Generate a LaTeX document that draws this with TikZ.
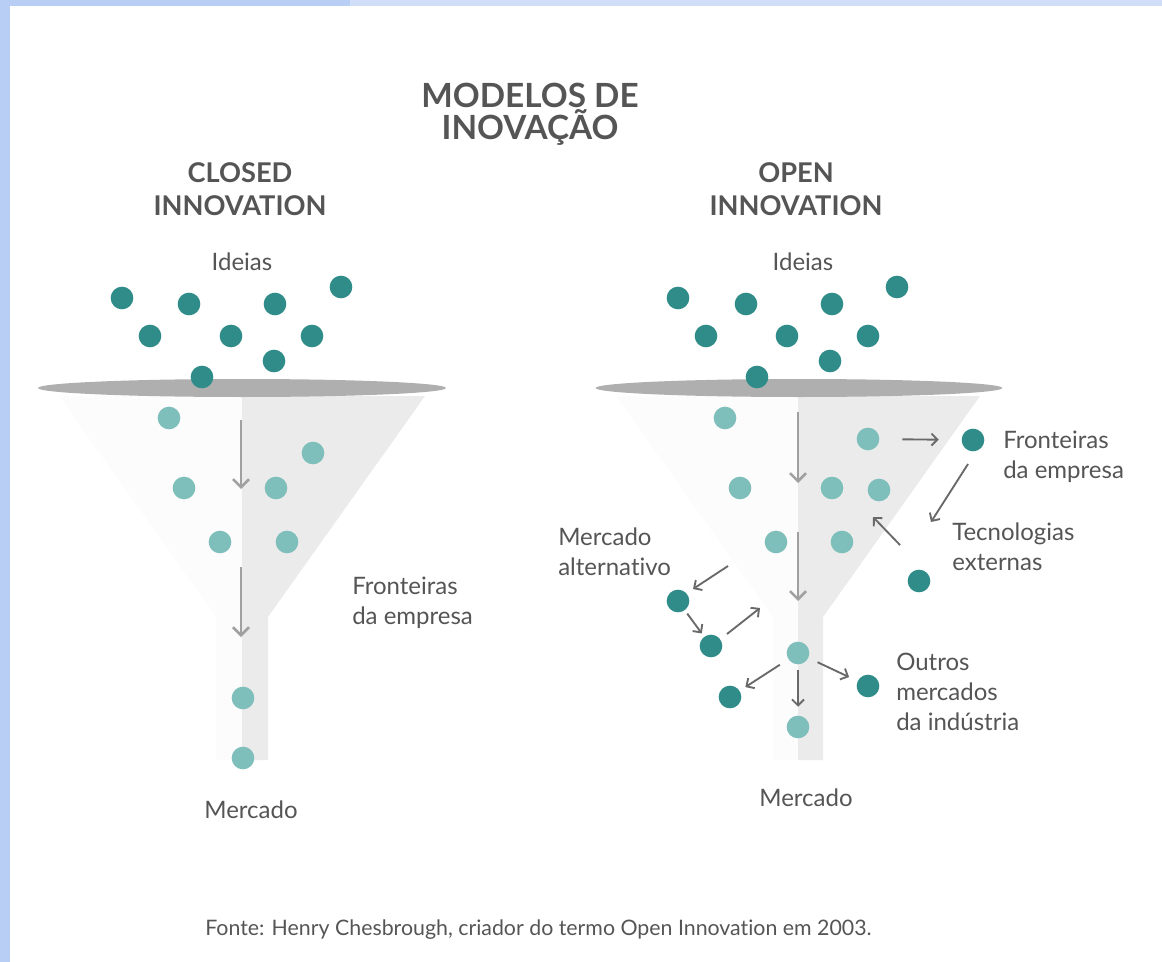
\documentclass[tikz,border=0pt]{standalone}
\usepackage{fontspec}
\setmainfont{Lato}[Ligatures=NoCommon]
\usetikzlibrary{arrows.meta}

\definecolor{tealdk}{RGB}{48,140,137}
\definecolor{teallt}{RGB}{126,191,187}
\definecolor{txtgray}{RGB}{85,85,85}
\definecolor{funnelgray}{RGB}{235,235,235}
\definecolor{funnelfaint}{RGB}{252,252,252}
\definecolor{rimgray}{RGB}{175,175,175}
\definecolor{arrgray}{RGB}{160,160,160}
\definecolor{arrdk}{RGB}{105,105,105}
\definecolor{framebl}{RGB}{184,206,245}
\definecolor{framelt}{RGB}{208,222,247}

\begin{document}
\begin{tikzpicture}[x=0.75pt,y=0.75pt,yscale=-1,xscale=1,
  dk/.style={circle,fill=tealdk,inner sep=0pt,minimum size=17pt},
  lt/.style={circle,fill=teallt,inner sep=0pt,minimum size=17pt},
  lbl/.style={text=txtgray,font=\fontsize{18}{22.5}\selectfont,inner sep=0pt,align=left},
  head/.style={text=txtgray,font=\bfseries\fontsize{20.4}{25}\selectfont,inner sep=0pt,align=center},
  bigarrow/.style={draw=arrgray,line width=1.9pt,-{Straight Barb[length=6pt,width=12pt]}},
  smallarrow/.style={draw=arrdk,line width=1.4pt,-{Straight Barb[length=4.5pt,width=9pt]}}]
\useasboundingbox (0,0) rectangle (1162,962);

%Frame of the screenshot
\fill [framebl] (0,0) rectangle (10,962);
\fill [framebl] (0,0) rectangle (350,6);
\fill [framelt] (350,0) rectangle (1162,6);

% Title
\node [head,font=\bfseries\fontsize{25}{24}\selectfont] (title) at (530,114) {MODELOS DE\\INOVAÇÃO};

%%%%%%%%%%%% closed innovation %%%%%%%%%%%%
\node [head] (closedhd) at (240,189) {CLOSED\\INNOVATION};
\node [lbl] (cideias) at (242,262) {Ideias};

%Funnel body
\fill [funnelfaint] (242,396) -- (59,396) -- (216,617) -- (216,760) -- (242,760) -- cycle;
\fill [funnelgray] (242,396) -- (425,396) -- (268,617) -- (268,760) -- (242,760) -- cycle;
%Funnel rim
\fill [rimgray] (242,388) ellipse [x radius=153pt, y radius=6.75pt];

%Ideas
\node [dk] (ci1) at (122,298) {};
\node [dk] (ci2) at (189,304) {};
\node [dk] (ci3) at (275,304) {};
\node [dk] (ci4) at (341,287) {};
\node [dk] (ci5) at (150,336) {};
\node [dk] (ci6) at (231,336) {};
\node [dk] (ci7) at (312,336) {};
\node [dk] (ci8) at (274,361) {};
\node [dk] (ci9) at (202,377) {};

%Inside the funnel
\node [lt] (cp1) at (169,418) {};
\node [lt] (cp2) at (313,453) {};
\node [lt] (cp3) at (184,488) {};
\node [lt] (cp4) at (276,488) {};
\node [lt] (cp5) at (220,542) {};
\node [lt] (cp6) at (287,542) {};
\node [lt] (cp7) at (243,698) {};
\node [lt] (cp8) at (243,758) {};

\coordinate (ca1) at (241,420);
\coordinate (ca2) at (241,489);
\coordinate (ca3) at (241,567);
\coordinate (ca4) at (241,637);
\draw [bigarrow] (ca1) -- (ca2);
\draw [bigarrow] (ca3) -- (ca4);

\node [lbl,anchor=west] (cfront) at (352,603) {Fronteiras\\da empresa};
\node [lbl] (cmerc) at (251,810) {Mercado};

%%%%%%%%%%%% open innovation %%%%%%%%%%%%
\node [head] (openhd) at (796,189) {OPEN\\INNOVATION};
\node [lbl] (oideias) at (803,262) {Ideias};

%Funnel body
\fill [funnelfaint] (798,396) -- (616,396) -- (773,617) -- (773,760) -- (798,760) -- cycle;
\fill [funnelgray] (798,396) -- (980,396) -- (823,617) -- (823,760) -- (798,760) -- cycle;
%Funnel rim
\fill [rimgray] (799,388) ellipse [x radius=152.5pt, y radius=6.75pt];

%Ideas
\node [dk] (oi1) at (678,298) {};
\node [dk] (oi2) at (746,304) {};
\node [dk] (oi3) at (832,304) {};
\node [dk] (oi4) at (897,287) {};
\node [dk] (oi5) at (706,336) {};
\node [dk] (oi6) at (787,336) {};
\node [dk] (oi7) at (868,336) {};
\node [dk] (oi8) at (830,361) {};
\node [dk] (oi9) at (757,377) {};

%Inside the funnel
\node [lt] (op1) at (725,418) {};
\node [lt] (op2) at (868,439) {};
\node [lt] (op3) at (740,488) {};
\node [lt] (op4) at (832,488) {};
\node [lt] (op5) at (879,490) {};
\node [lt] (op6) at (776,542) {};
\node [lt] (op7) at (842,542) {};
\node [lt] (op8) at (798,653) {};
\node [lt] (op9) at (798,727) {};

%Outside the funnel
\node [dk] (ofront) at (973,440) {};
\node [dk] (otec) at (919,581) {};
\node [dk] (oalt1) at (678,601) {};
\node [dk] (oalt2) at (711,646) {};
\node [dk] (oout1) at (730,697) {};
\node [dk] (oout2) at (868,686) {};

\coordinate (oa1) at (798,412);
\coordinate (oa2) at (798,483);
\coordinate (oa3) at (798,532);
\coordinate (oa4) at (798,601);
\draw [bigarrow] (oa1) -- (oa2);
\draw [bigarrow] (oa3) -- (oa4);

\coordinate (ot1) at (968,464);
\coordinate (ot2) at (931,522);
\coordinate (ot3) at (900,545);
\coordinate (ot4) at (873,517);
\coordinate (om1) at (728,566);
\coordinate (om2) at (693,589);
\coordinate (om3) at (727,634);
\coordinate (om4) at (760,608);
\draw [smallarrow, shorten <=17pt, shorten >=17pt] (op2) -- (ofront);
\draw [smallarrow] (ot1) -- (ot2);
\draw [smallarrow] (ot3) -- (ot4);
\draw [smallarrow] (om1) -- (om2);
\draw [smallarrow, shorten <=3pt, shorten >=3pt] (oalt1) -- (oalt2);
\draw [smallarrow] (om3) -- (om4);
\draw [smallarrow, shorten <=7.5pt, shorten >=5pt] (op8) -- (oout1);
\draw [smallarrow, shorten <=4pt, shorten >=6.5pt] (op8) -- (op9);
\draw [smallarrow, shorten <=7.5pt, shorten >=7pt] (op8) -- (oout2);

\node [lbl,anchor=west] (ofrontl) at (1003,457) {Fronteiras\\da empresa};
\node [lbl,anchor=west] (otecl) at (952,547) {Tecnologias\\externas};
\node [lbl,anchor=west] (oaltl) at (558,552) {Mercado\\alternativo};
\node [lbl,anchor=west] (ooutl) at (896,692) {Outros\\mercados\\da indústria};
\node [lbl] (omerc) at (806,798) {Mercado};

% Source
\node [lbl,anchor=west,font=\fontsize{16}{18}\selectfont] (fonte) at (205,930) {Fonte: Henry Chesbrough, criador do termo Open Innovation em 2003.};

\end{tikzpicture}
\end{document}
